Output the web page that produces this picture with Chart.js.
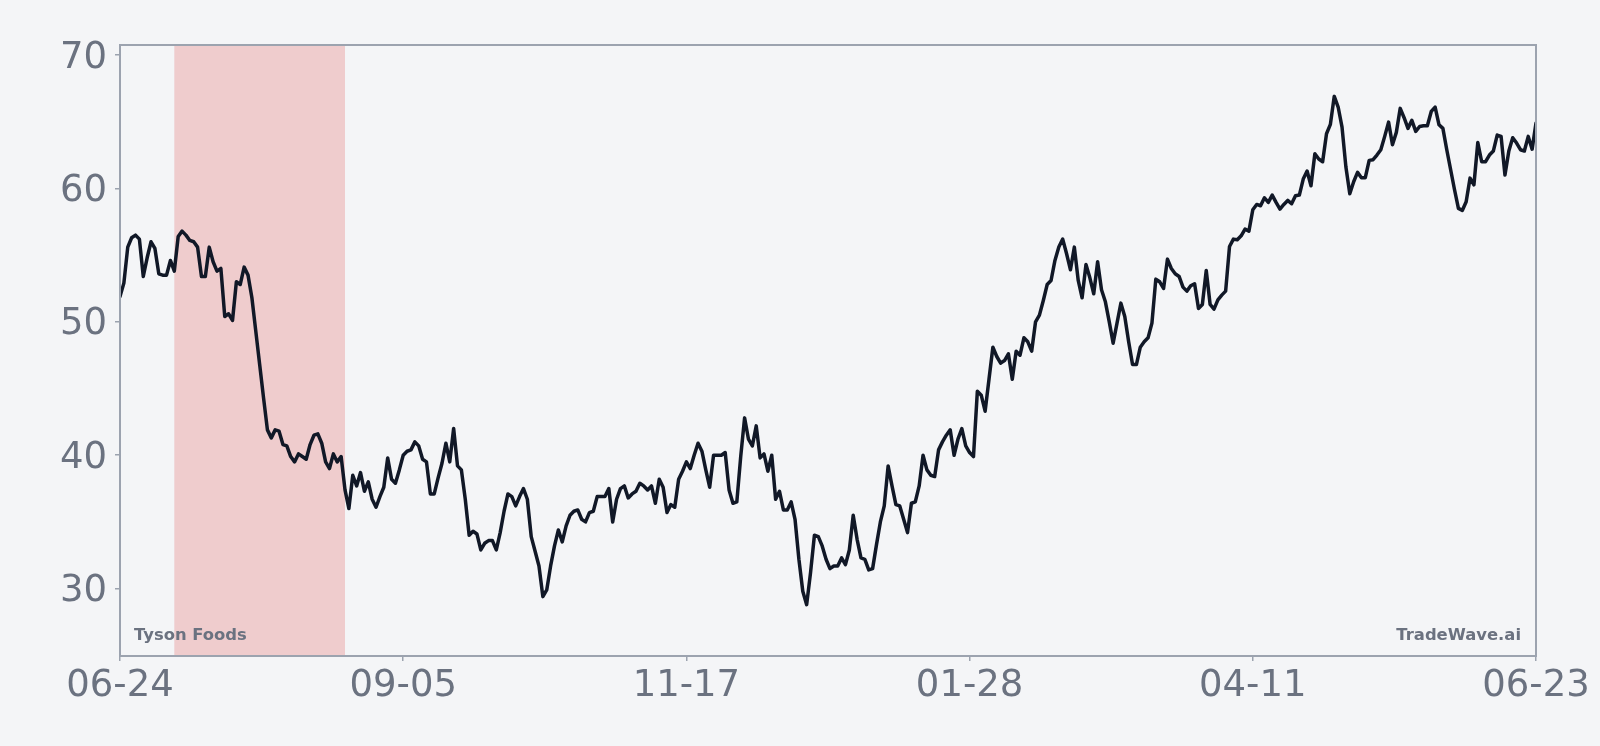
<!DOCTYPE html>
<html><head><meta charset="utf-8">
<script src="https://cdn.jsdelivr.net/npm/chart.js@4.4.1/dist/chart.umd.min.js"></script>
<style>html,body{margin:0;padding:0;background:#f4f5f7;}canvas{display:block;}</style>
</head><body>
<canvas id="c" width="1600" height="746"></canvas>
<script>
const companyName = 'Tyson Foods';
const brandName = 'TradeWave.ai';
const tickLabels = ['06-24', '09-05', '11-17', '01-28', '04-11', '06-23'];
const yTickValues = [30, 40, 50, 60, 70];
const shadeStartIndex = 14;
const shadeEndIndex = 58;
const prices = [
  51.9, 52.9, 55.6, 56.3, 56.5, 56.2, 53.4, 54.8, 56.0, 55.5,
  53.6, 53.5, 53.5, 54.6, 53.8, 56.4, 56.8, 56.5, 56.1, 56.0,
  55.6, 53.4, 53.4, 55.6, 54.5, 53.8, 54.0, 50.4, 50.6, 50.1,
  53.0, 52.8, 54.1, 53.5, 51.8, 49.3, 46.8, 44.3, 41.9, 41.3,
  41.9, 41.8, 40.8, 40.7, 39.9, 39.5, 40.1, 39.9, 39.7, 40.8,
  41.5, 41.6, 40.9, 39.5, 39.0, 40.1, 39.5, 39.9, 37.4, 36.0,
  38.5, 37.7, 38.7, 37.3, 38.0, 36.7, 36.1, 36.9, 37.6, 39.8,
  38.2, 37.9, 38.9, 40.0, 40.3, 40.4, 41.0, 40.7, 39.7, 39.5,
  37.1, 37.1, 38.3, 39.4, 40.9, 39.5, 42.0, 39.2, 38.9, 36.7,
  34.0, 34.3, 34.1, 32.9, 33.4, 33.6, 33.6, 32.9, 34.2, 35.8,
  37.1, 36.9, 36.2, 36.9, 37.5, 36.7, 33.9, 32.8, 31.7, 29.4,
  29.9, 31.7, 33.2, 34.4, 33.5, 34.7, 35.5, 35.8, 35.9, 35.2,
  35.0, 35.7, 35.8, 36.9, 36.9, 36.9, 37.5, 35.0, 36.7, 37.5,
  37.7, 36.8, 37.1, 37.3, 37.9, 37.7, 37.4, 37.7, 36.4, 38.2,
  37.6, 35.7, 36.3, 36.1, 38.2, 38.8, 39.5, 39.0, 40.0, 40.9,
  40.3, 38.9, 37.6, 40.0, 40.0, 40.0, 40.2, 37.4, 36.4, 36.5,
  39.9, 42.8, 41.2, 40.7, 42.2, 39.8, 40.1, 38.8, 40.0, 36.7,
  37.3, 35.9, 35.9, 36.5, 35.2, 32.2, 29.8, 28.8, 31.2, 34.0,
  33.9, 33.2, 32.2, 31.5, 31.7, 31.7, 32.3, 31.8, 32.9, 35.5,
  33.7, 32.3, 32.2, 31.4, 31.5, 33.3, 35.0, 36.2, 39.2, 37.7,
  36.3, 36.2, 35.2, 34.2, 36.4, 36.5, 37.7, 40.0, 38.9, 38.5,
  38.4, 40.4, 41.0, 41.5, 41.9, 40.0, 41.2, 42.0, 40.7, 40.2,
  39.9, 44.8, 44.5, 43.3, 45.7, 48.1, 47.4, 46.9, 47.1, 47.6,
  45.7, 47.8, 47.5, 48.8, 48.5, 47.8, 50.0, 50.5, 51.6, 52.8,
  53.1, 54.6, 55.6, 56.2, 55.1, 53.9, 55.6, 53.1, 51.8, 54.3,
  53.3, 52.1, 54.5, 52.4, 51.5, 50.0, 48.4, 49.9, 51.4, 50.4,
  48.5, 46.8, 46.8, 48.1, 48.5, 48.8, 49.9, 53.2, 53.0, 52.5,
  54.7, 54.0, 53.6, 53.4, 52.6, 52.3, 52.7, 52.85, 51.0, 51.3,
  53.85, 51.3, 50.95, 51.65, 52.0, 52.3, 55.65, 56.2, 56.15, 56.45,
  56.95, 56.8, 58.4, 58.8, 58.7, 59.3, 58.95, 59.5, 58.95, 58.45,
  58.8, 59.1, 58.85, 59.45, 59.5, 60.7, 61.3, 60.2, 62.6, 62.2,
  62.0, 64.1, 64.8, 66.9, 66.1, 64.6, 61.6, 59.6, 60.5, 61.2,
  60.8, 60.8, 62.1, 62.15, 62.5, 62.9, 63.9, 64.97, 63.27, 64.2,
  66.0, 65.3, 64.5, 65.1, 64.27, 64.64, 64.7, 64.7, 65.77, 66.1,
  64.77, 64.5, 62.9, 61.4, 59.9, 58.5, 58.35, 59.0, 60.77, 60.27,
  63.44, 62.0, 62.0, 62.5, 62.8, 64.0, 63.9, 61.0, 62.8, 63.8,
  63.4, 62.9, 62.8, 63.9, 62.94, 64.9
];

const BG = '#f4f5f7';
const FRAME = '#9ca3af';
const TEXT = '#6b7280';
const LINE = '#111827';
const SHADE = 'rgba(220, 38, 38, 0.2)';

const lastIndex = prices.length - 1;
const xTickPositions = tickLabels.map((_, k) => Math.round(k * lastIndex / (tickLabels.length - 1)));

const bgPlugin = {
  id: 'bgFill',
  beforeDraw(chart) {
    const ctx = chart.ctx;
    ctx.save();
    ctx.fillStyle = BG;
    ctx.fillRect(0, 0, chart.width, chart.height);
    ctx.restore();
  }
};

const shadePlugin = {
  id: 'shade',
  beforeDatasetsDraw(chart) {
    const { ctx, chartArea, scales } = chart;
    const x0 = scales.x.getPixelForValue(shadeStartIndex);
    const x1 = scales.x.getPixelForValue(shadeEndIndex);
    ctx.save();
    ctx.fillStyle = SHADE;
    ctx.fillRect(x0, chartArea.top, x1 - x0, chartArea.bottom - chartArea.top);
    ctx.restore();
  }
};

const framePlugin = {
  id: 'frame',
  afterDatasetsDraw(chart) {
    const { ctx, chartArea } = chart;
    ctx.save();
    ctx.strokeStyle = FRAME;
    ctx.lineWidth = 2;
    ctx.strokeRect(chartArea.left, chartArea.top, chartArea.right - chartArea.left, chartArea.bottom - chartArea.top);
    ctx.restore();
  },
  afterDraw(chart) {
    const { ctx, chartArea } = chart;
    ctx.save();
    ctx.font = 'bold 16.4px "DejaVu Sans"';
    ctx.fillStyle = TEXT;
    ctx.textBaseline = 'alphabetic';
    ctx.textAlign = 'left';
    ctx.fillText(companyName, chartArea.left + 14, chartArea.bottom - 16);
    ctx.textAlign = 'right';
    ctx.fillText(brandName, chartArea.right - 15, chartArea.bottom - 16);
    ctx.restore();
  }
};

new Chart(document.getElementById('c'), {
  type: 'line',
  data: {
    datasets: [{
      data: prices.map((v, i) => ({ x: i, y: v })),
      borderColor: LINE,
      borderWidth: 3.5,
      pointRadius: 0,
      tension: 0,
      fill: false,
      borderJoinStyle: 'round',
      borderCapStyle: 'round'
    }]
  },
  options: {
    responsive: false,
    animation: false,
    devicePixelRatio: 1,
    layout: { padding: { top: 45, right: 64, left: 0, bottom: 0 } },
    plugins: { legend: { display: false }, tooltip: { enabled: false } },
    scales: {
      x: {
        type: 'linear',
        min: 0,
        max: lastIndex,
        afterBuildTicks: (s) => { s.ticks = xTickPositions.map(v => ({ value: v })); },
        afterFit: (s) => { s.height = 90; },
        ticks: {
          callback: (v, i) => tickLabels[i],
          color: TEXT,
          font: { family: 'DejaVu Sans', size: 37 },
          maxRotation: 0,
          autoSkip: false,
          padding: 3
        },
        grid: { drawOnChartArea: false, drawTicks: true, tickLength: 5, color: FRAME, lineWidth: 1.5 },
        border: { display: false }
      },
      y: {
        type: 'linear',
        min: 24.95,
        max: 70.75,
        afterBuildTicks: (s) => { s.ticks = yTickValues.map(v => ({ value: v })); },
        afterFit: (s) => { s.width = 120; },
        ticks: {
          callback: (v) => String(v),
          color: TEXT,
          font: { family: 'DejaVu Sans', size: 37 },
          padding: 8,
          labelOffset: 3
        },
        grid: { drawOnChartArea: false, drawTicks: true, tickLength: 5, color: FRAME, lineWidth: 1.5 },
        border: { display: false }
      }
    }
  },
  plugins: [bgPlugin, shadePlugin, framePlugin]
});
</script>
</body></html>
